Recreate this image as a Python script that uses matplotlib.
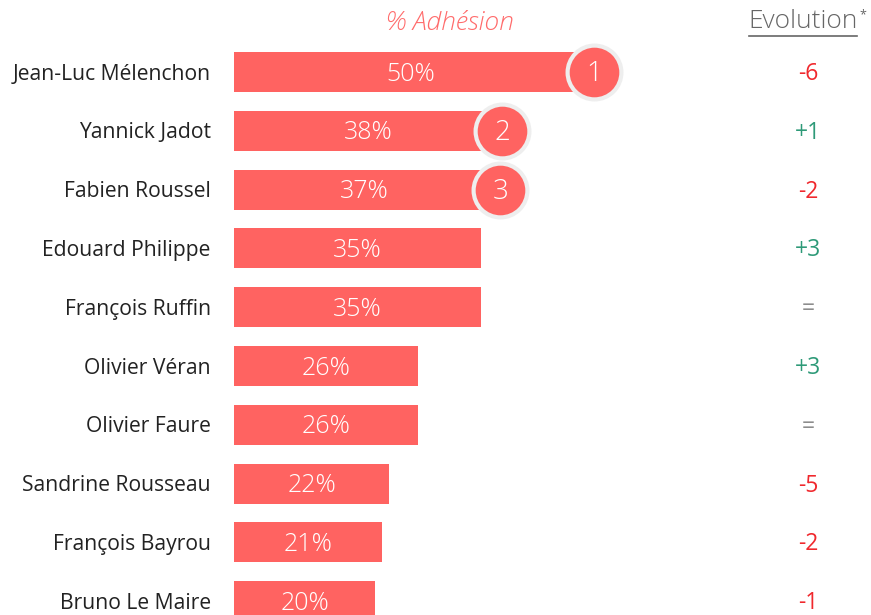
import matplotlib.pyplot as plt
from matplotlib.lines import Line2D

names = ["Jean-Luc Mélenchon", "Yannick Jadot", "Fabien Roussel", "Edouard Philippe",
         "François Ruffin", "Olivier Véran", "Olivier Faure", "Sandrine Rousseau",
         "François Bayrou", "Bruno Le Maire"]
adhesion = [50, 38, 37, 35, 35, 26, 26, 22, 21, 20]
evolution = ["-6", "+1", "-2", "+3", "=", "+3", "=", "-5", "-2", "-1"]
ranks = ["1", "2", "3"]

bar_color = "#ff6361"
red = "#f0282d"
green = "#2e9a78"
grey = "#8c8c8c"
font = "Open Sans"

fig = plt.figure(figsize=(8.71, 6.15), dpi=100)
ax = fig.add_axes([0, 0, 1, 1])
ax.set_xlim(-33.14, 90.2)
ax.set_ylim(9.235, -1.224)
ax.axis("off")

ypos = list(range(len(names)))
ax.barh(ypos, adhesion, height=0.68, color=bar_color)

dy = 0.035
for y, name, v, ev in zip(ypos, names, adhesion, evolution):
    ax.text(-3.3, y + dy, name, ha="right", va="center", fontsize=15.2, color="#222222",
            family=font)
    ax.text(v / 2, y + dy, f"{v}%", ha="center", va="center", fontsize=18, color="white",
            family=font, fontweight="light")
    if ev.startswith("+"):
        c = green
    elif ev.startswith("-"):
        c = red
    else:
        c = grey
    ax.text(81.3, y + dy, ev, ha="center", va="center", fontsize=16.5, color=c, family=font)

# rank badges
offsets = [1.0, 0.0, 0.7]
for i, r in enumerate(ranks):
    cx = adhesion[i] + offsets[i]
    ax.scatter(cx, i, s=1500, color=bar_color, edgecolor="#eeeeee", linewidth=3, zorder=3)
    ax.text(cx, i + dy, r, ha="center", va="center", fontsize=20, color="white", family=font,
            fontweight="light", zorder=4)

# headers
fig.text(450 / 871, 1 - 23 / 615, "% Adhésion", ha="center", va="center", fontsize=19,
         style="italic", color="#ff6b6b", family=font, fontweight="light")
fig.text(803 / 871, 1 - 22 / 615, "Evolution", ha="center", va="center", fontsize=19,
         color="#666666", family=font, fontweight="light")
fig.text(863 / 871, 1 - 15 / 615, "*", ha="center", va="center", fontsize=9,
         color="#666666", family=font)
fig.add_artist(Line2D([749 / 871, 857 / 871], [1 - 36 / 615, 1 - 36 / 615],
                      color="#666666", linewidth=1.2))

fig.savefig("out.png", dpi=100)
